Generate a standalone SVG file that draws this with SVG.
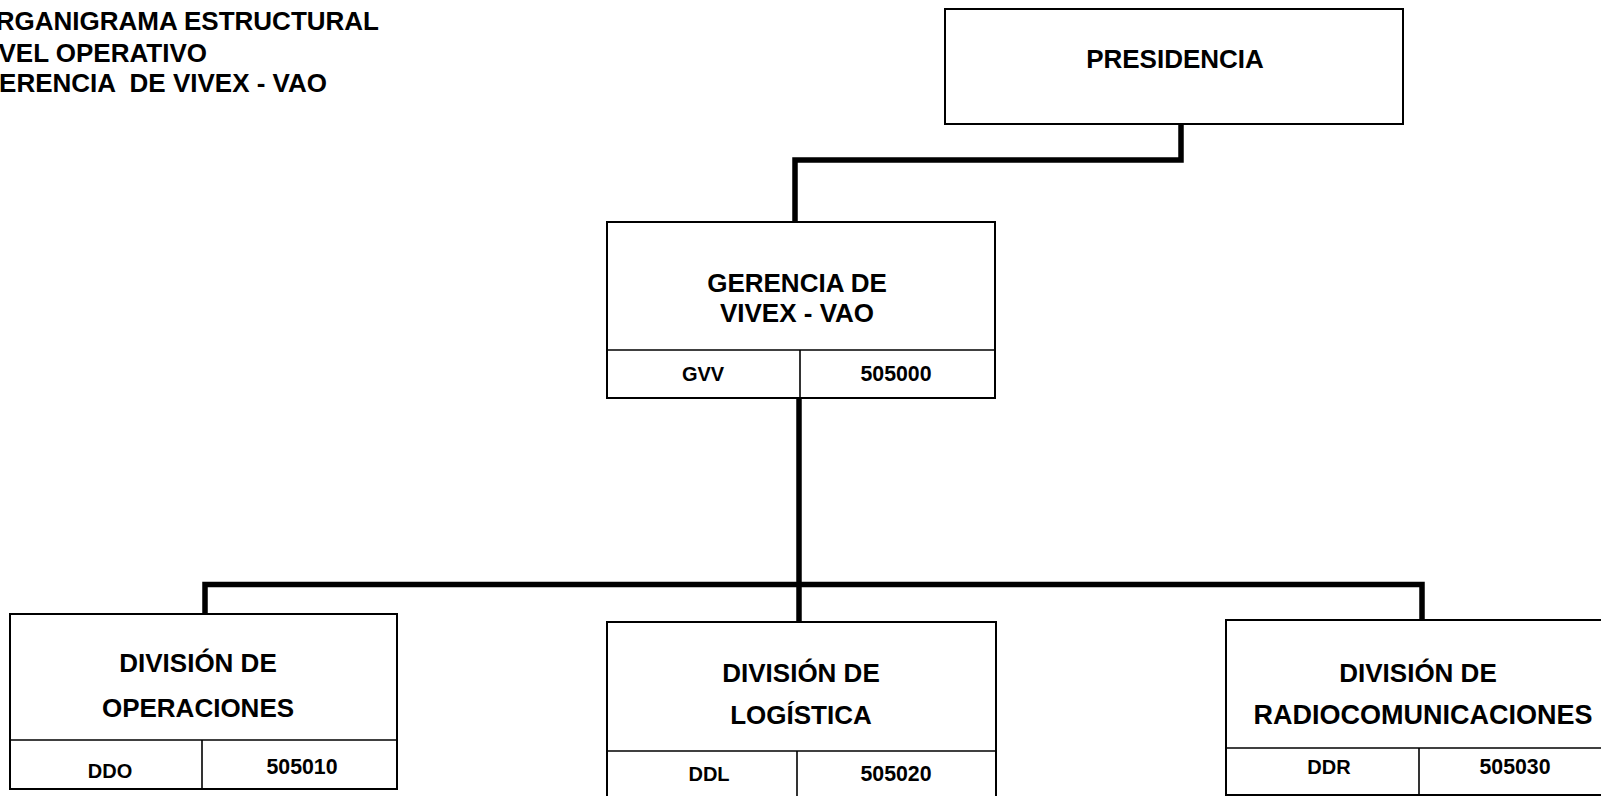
<svg xmlns="http://www.w3.org/2000/svg" width="1601" height="796" viewBox="0 0 1601 796">
<style>
text{font-family:"Liberation Sans",Arial,sans-serif;font-weight:bold;fill:#000}
.t{font-size:26px}
.n{font-size:26px;text-anchor:middle}
.c{font-size:20px;text-anchor:middle}
.d{font-size:21.3px;text-anchor:middle}
.box{fill:#fff;stroke:#000;stroke-width:2}
.div{stroke:#000;stroke-width:1.6;fill:none}
.con{stroke:#000;stroke-width:5.5;fill:none;stroke-linecap:square}
</style>
<rect width="1601" height="796" fill="#fff"/>
<g id="title">
<text class="t" x="379" y="30" text-anchor="end">ORGANIGRAMA ESTRUCTURAL</text>
<text class="t" x="207" y="62" text-anchor="end">NIVEL OPERATIVO</text>
<text class="t" x="327" y="92" text-anchor="end" xml:space="preserve">GERENCIA  DE VIVEX - VAO</text>
</g>
<g id="connectors">
<path class="con" d="M1181 124 V160 H795 V222"/>
<path class="con" d="M799 398 V622"/>
<path class="con" d="M205 614 V584.5 H1422 V620"/>
</g>
<g id="presidencia">
<rect class="box" x="945" y="9" width="458" height="115"/>
<text class="n" x="1175" y="68">PRESIDENCIA</text>
</g>
<g id="gerencia">
<rect class="box" x="607" y="222" width="388" height="176"/>
<line class="div" x1="607" y1="350" x2="995" y2="350"/>
<line class="div" x1="800" y1="350" x2="800" y2="398"/>
<text class="n" x="797" y="292">GERENCIA DE</text>
<text class="n" x="797" y="322">VIVEX - VAO</text>
<text class="c" x="703" y="381">GVV</text>
<text class="d" x="896" y="381">505000</text>
</g>
<g id="operaciones">
<rect class="box" x="10" y="614" width="387" height="175"/>
<line class="div" x1="10" y1="740" x2="397" y2="740"/>
<line class="div" x1="202" y1="740" x2="202" y2="789"/>
<text class="n" x="198" y="672">DIVISIÓN DE</text>
<text class="n" x="198" y="717">OPERACIONES</text>
<text class="c" x="110" y="778">DDO</text>
<text class="d" x="302" y="774">505010</text>
</g>
<g id="logistica">
<rect class="box" x="607" y="622" width="389" height="185"/>
<line class="div" x1="607" y1="751" x2="996" y2="751"/>
<line class="div" x1="797" y1="751" x2="797" y2="807"/>
<text class="n" x="801" y="682">DIVISIÓN DE</text>
<text class="n" x="801" y="724">LOGÍSTICA</text>
<text class="c" x="709" y="781">DDL</text>
<text class="d" x="896" y="781">505020</text>
</g>
<g id="radiocomunicaciones">
<rect class="box" x="1226" y="620" width="400" height="175"/>
<line class="div" x1="1226" y1="748" x2="1626" y2="748"/>
<line class="div" x1="1419" y1="748" x2="1419" y2="795"/>
<text class="n" x="1418" y="682">DIVISIÓN DE</text>
<text class="n" x="1423" y="724" style="font-size:27px">RADIOCOMUNICACIONES</text>
<text class="c" x="1329" y="774">DDR</text>
<text class="d" x="1515" y="774">505030</text>
</g>
</svg>
